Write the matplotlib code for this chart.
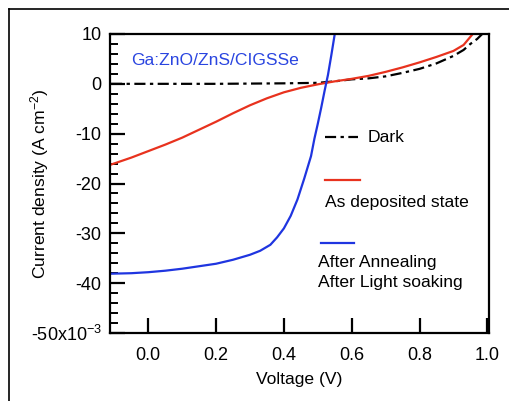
import matplotlib

matplotlib.use("Agg")
import matplotlib.pyplot as plt
from matplotlib.lines import Line2D
import numpy as np

plt.rcParams["font.family"] = ["Liberation Sans", "DejaVu Sans"]
plt.rcParams["mathtext.fontset"] = "custom"
plt.rcParams["mathtext.rm"] = "Liberation Sans"
plt.rcParams["mathtext.it"] = "Liberation Sans:italic"
plt.rcParams["mathtext.default"] = "regular"
plt.rcParams["axes.unicode_minus"] = False

# J-V curves, current density in mA/cm2 (axis shows x10^-3 A/cm2)
v_dark = [-0.11, 0.0, 0.1, 0.2, 0.3, 0.4, 0.5, 0.55, 0.6, 0.65, 0.7, 0.75,
          0.8, 0.85, 0.9, 0.93, 0.95, 0.97, 0.985]
j_dark = [0.0, 0.0, 0.0, 0.0, 0.05, 0.1, 0.2, 0.5, 0.9, 1.1, 1.5, 2.2,
          3.0, 4.1, 5.6, 6.8, 8.0, 9.0, 10.0]

v_asdep = [-0.11, -0.05, 0.0, 0.05, 0.1, 0.15, 0.2, 0.25, 0.3, 0.35, 0.4,
           0.45, 0.5, 0.55, 0.6, 0.65, 0.7, 0.75, 0.8, 0.85, 0.9, 0.93, 0.957]
j_asdep = [-16.2, -14.8, -13.5, -12.2, -10.8, -9.2, -7.6, -5.9, -4.3, -2.9,
           -1.7, -0.8, -0.1, 0.5, 1.0, 1.6, 2.4, 3.3, 4.3, 5.4, 6.6, 7.8, 10.0]

v_anneal = [-0.11, -0.05, 0.0, 0.05, 0.1, 0.15, 0.2, 0.25, 0.3, 0.33, 0.36,
            0.38, 0.40, 0.42, 0.44, 0.46, 0.48, 0.49, 0.50, 0.51, 0.52, 0.53,
            0.54, 0.55, 0.555]
j_anneal = [-38.1, -38.0, -37.8, -37.5, -37.1, -36.6, -36.1, -35.3, -34.3,
            -33.5, -32.3, -30.8, -29.0, -26.5, -23.2, -19.0, -14.5, -11.0,
            -8.0, -4.8, -1.4, 1.8, 5.8, 10.0, 12.0]

y_ticks = [10, 0, -10, -20, -30, -40, -50]
y_ticklabels = ["10", "0", "-10", "-20", "-30", "-40", "-50x10$^{-3}$"]
x_ticks = [0.0, 0.2, 0.4, 0.6, 0.8, 1.0]

W, H = 510, 401
fig = plt.figure(figsize=(W / 100, H / 100), dpi=100)

# frame around the figure (left and top edges only show)
fig.add_artist(Line2D([9 / W, 9 / W], [0, 1 - 9 / H], color="black", lw=1.2))
fig.add_artist(Line2D([9 / W, 1], [1 - 9 / H, 1 - 9 / H], color="black", lw=1.2))

ax = fig.add_axes([110 / W, (H - 333) / H, (489 - 110) / W, (333 - 34) / H])

ax.plot(v_dark, j_dark, color="black", lw=1.6, dashes=(5, 2, 1.5, 2))
ax.plot(v_asdep, j_asdep, color="#e8321e", lw=1.6)
ax.plot(v_anneal, j_anneal, color="#1f35e0", lw=1.6)

ax.set_xlim(-0.113, 1.005)
ax.set_ylim(-50, 10)
ax.set_xticks(x_ticks)
ax.set_xticklabels([f"{t:.1f}" for t in x_ticks])
ax.set_yticks(y_ticks)
ax.set_yticklabels(y_ticklabels)
ax.set_yticks(np.arange(-50, 11, 2), minor=True)

for s in ax.spines.values():
    s.set_linewidth(1.6)
ax.tick_params(axis="both", which="major", direction="in", length=11, width=1.6,
               labelsize=13)
ax.tick_params(axis="x", which="major", pad=10)
ax.tick_params(axis="y", which="major", pad=6)
ax.tick_params(axis="y", which="minor", direction="in", length=6, width=1.4)
ax.tick_params(axis="x", which="minor", length=0)

ax.set_xlabel("Voltage (V)", fontsize=12.6)
ax.xaxis.set_label_coords(0.5, -(372 - 333) / (333 - 34))
ax.set_ylabel("Current density (A cm$^{-2}$)", fontsize=12.6)
ax.yaxis.set_label_coords(-(110 - 51) / (489 - 110), 0.5)

ax.text(0.055, 0.91, "Ga:ZnO/ZnS/CIGSSe", transform=ax.transAxes,
        color="#2a45e0", fontsize=12.6, va="center")

# hand-placed legend
def px(x, y):
    return ((x - 110) / (489 - 110), (333 - y) / (333 - 34))

ax.add_line(Line2D(*zip(px(325, 137), px(358, 137)), transform=ax.transAxes,
                   color="black", lw=1.6, dashes=(5, 2, 1.5, 2)))
ax.text(*px(368, 137), "Dark", transform=ax.transAxes, va="center", fontsize=12.6)
ax.add_line(Line2D(*zip(px(325, 180), px(360, 180)), transform=ax.transAxes,
                   color="#e8321e", lw=1.6))
ax.text(*px(325, 202), "As deposited state", transform=ax.transAxes,
        va="center", fontsize=12.6)
ax.add_line(Line2D(*zip(px(321, 243), px(354, 243)), transform=ax.transAxes,
                   color="#1f35e0", lw=1.6))
ax.text(*px(318, 263), "After Annealing", transform=ax.transAxes,
        va="center", fontsize=12.6)
ax.text(*px(318, 283), "After Light soaking", transform=ax.transAxes,
        va="center", fontsize=12.6)

fig.savefig("out.png", dpi=100)
